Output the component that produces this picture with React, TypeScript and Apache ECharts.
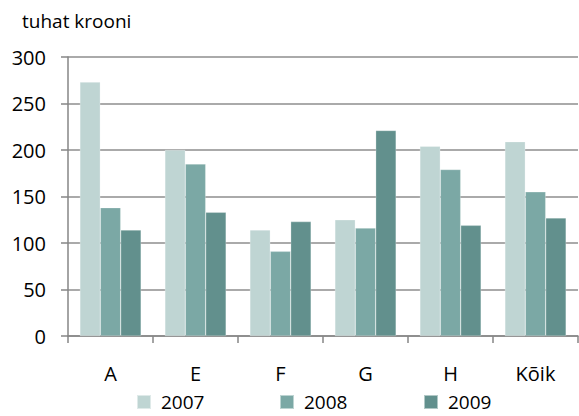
import React, { useEffect, useRef } from "react";
import * as echarts from "echarts";

const categories = ["A", "E", "F", "G", "H", "Kõik"];
const seriesNames = ["2007", "2008", "2009"];
const values2007 = [273, 200, 114, 125, 204, 209];
const values2008 = [138, 185, 91, 116, 179, 155];
const values2009 = [114, 133, 123, 221, 119, 127];
const colors = ["#bfd5d3", "#7ba8a5", "#62908d"];
const yTitle = "tuhat krooni";
const legendLefts = [136, 279, 423];

const FONT = "'Open Sans', Lato, sans-serif";

export default function App() {
  const ref = useRef<HTMLDivElement>(null);
  useEffect(() => {
    document.body.style.margin = "0";
    if (!ref.current) return;
    const chart = echarts.init(ref.current, undefined, { renderer: "svg" });
    const data = [values2007, values2008, values2009];
    chart.setOption({
      animation: false,
      textStyle: { fontFamily: FONT },
      title: {
        text: yTitle,
        left: 22,
        top: 11,
        padding: 0,
        textStyle: { fontFamily: FONT, fontSize: 19, fontWeight: "normal", color: "#000" },
      },
      grid: { left: 68, right: 1, top: 57, bottom: 80, containLabel: false },
      legend: seriesNames.map((n, i) => ({
        left: legendLefts[i],
        top: 392,
        padding: 0,
        itemWidth: 14,
        itemHeight: 14,
        icon: "rect",
        data: [n],
        textStyle: { fontFamily: FONT, fontSize: 19, lineHeight: 20, color: "#000", padding: [0, 0, 0, 5] },
      })),
      xAxis: {
        type: "category",
        data: categories,
        axisLine: { lineStyle: { color: "#868686", width: 1.5 } },
        axisTick: { show: true, length: 7, alignWithLabel: false, lineStyle: { color: "#868686", width: 1.5 } },
        axisLabel: { fontFamily: FONT, fontSize: 20, color: "#000", margin: 27 },
      },
      yAxis: {
        type: "value",
        min: 0,
        max: 300,
        interval: 50,
        axisLine: { show: true, lineStyle: { color: "#868686", width: 1.5 } },
        axisTick: { show: true, length: 7, lineStyle: { color: "#868686", width: 1.5 } },
        axisLabel: { fontFamily: FONT, fontSize: 20, color: "#000", margin: 22 },
        splitLine: { lineStyle: { color: "#8e8e8e", width: 1.5 } },
      },
      series: seriesNames.map((name, i) => ({
        name,
        type: "bar",
        data: data[i],
        barGap: "0%",
        barCategoryGap: "28%",
        itemStyle: { color: colors[i], borderColor: "rgba(255,255,255,0.5)", borderWidth: 0.5 },
      })),
    });
    return () => chart.dispose();
  }, []);
  return <div ref={ref} style={{ width: 579, height: 416 }} />;
}
